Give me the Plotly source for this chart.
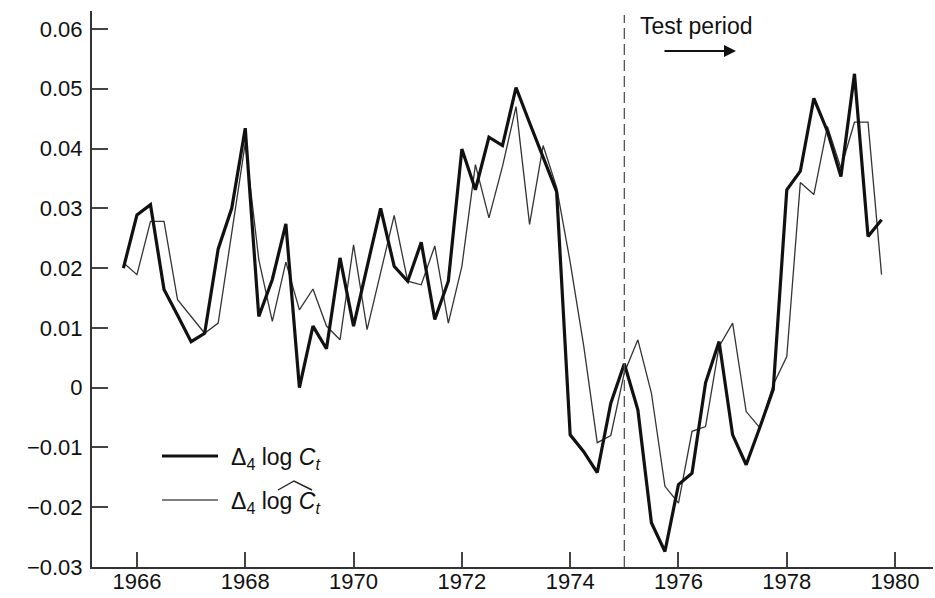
import plotly.graph_objects as go

# Quarterly observations, 1965 Q4 to 1979 Q4
start_year = 1965.75
n_quarters = 57
quarters = [start_year + 0.25 * i for i in range(n_quarters)]

# Four-quarter change in log consumption (actual)
actual = [
    0.0200, 0.0289, 0.0306, 0.0164, 0.0121, 0.0077, 0.0091, 0.0232,
    0.0300, 0.0434, 0.0119, 0.0181, 0.0274, 0.0000, 0.0103, 0.0065,
    0.0217, 0.0103, 0.0202, 0.0300, 0.0203, 0.0178, 0.0243, 0.0114,
    0.0178, 0.0399, 0.0331, 0.0419, 0.0405, 0.0502, 0.0443, 0.0387,
    0.0328, -0.0079, -0.0107, -0.0142, -0.0026, 0.0040, -0.0037, -0.0226,
    -0.0274, -0.0162, -0.0143, 0.0008, 0.0077, -0.0079, -0.0129, -0.0067,
    -0.0003, 0.0331, 0.0362, 0.0484, 0.0429, 0.0353, 0.0525, 0.0253,
    0.0281,
]

# Four-quarter change in log consumption (fitted / predicted)
fitted = [
    0.0209, 0.0189, 0.0278, 0.0278, 0.0147, 0.0119, 0.0091, 0.0108,
    0.0257, 0.0409, 0.0214, 0.0111, 0.0210, 0.0130, 0.0165, 0.0103,
    0.0080, 0.0239, 0.0097, 0.0190, 0.0288, 0.0178, 0.0172, 0.0237,
    0.0108, 0.0203, 0.0373, 0.0284, 0.0370, 0.0470, 0.0273, 0.0405,
    0.0335, 0.0210, 0.0070, -0.0092, -0.0080, 0.0025, 0.0080, -0.0009,
    -0.0165, -0.0193, -0.0073, -0.0065, 0.0069, 0.0108, -0.0040, -0.0067,
    0.0005, 0.0052, 0.0343, 0.0323, 0.0437, 0.0367, 0.0444, 0.0444,
    0.0189,
]

x_ticks = [1966, 1968, 1970, 1972, 1974, 1976, 1978, 1980]
x_ticktext = ["1966", "1968", "1970", "1972", "1974", "1976", "1978", "1980"]
y_ticks = [-0.03, -0.02, -0.01, 0.0, 0.01, 0.02, 0.03, 0.04, 0.05, 0.06]
y_ticktext = ["\u22120.03", "\u22120.02", "\u22120.01", "0", "0.01", "0.02",
              "0.03", "0.04", "0.05", "0.06"]

test_start = 1975.0

W, H = 935, 598
ML, MR, MT, MB = 92, 2, 11, 31
FONT = "Liberation Sans, Arial, Helvetica, sans-serif"


def px(xp):
    """Horizontal pixel position -> paper coordinate."""
    return (xp - ML) / (W - ML - MR)


def py(yp):
    """Vertical pixel position (from top) -> paper coordinate."""
    return (H - MB - yp) / (H - MT - MB)


fig = go.Figure()

fig.add_trace(go.Scatter(
    x=quarters, y=fitted, mode="lines",
    line=dict(color="#333333", width=1.3),
    showlegend=False, hoverinfo="skip",
))
fig.add_trace(go.Scatter(
    x=quarters, y=actual, mode="lines",
    line=dict(color="#111111", width=3.2),
    showlegend=False, hoverinfo="skip",
))

shapes = [
    # start of the test period
    dict(type="line", xref="x", yref="paper", x0=test_start, x1=test_start,
         y0=0, y1=py(15), line=dict(color="#555555", width=1.3, dash="11px,5px")),
    # legend samples
    dict(type="line", xref="paper", yref="paper", x0=px(162), x1=px(218),
         y0=py(456), y1=py(456), line=dict(color="#111111", width=3)),
    dict(type="line", xref="paper", yref="paper", x0=px(162), x1=px(218),
         y0=py(500), y1=py(500), line=dict(color="#555555", width=1.3)),
    # wide hat over the fitted-value symbol
    dict(type="path", xref="paper", yref="paper",
         path=f"M {px(278)} {py(490)} L {px(294)} {py(481)} L {px(312)} {py(490)}",
         line=dict(color="#222222", width=1.4)),
]

annotations = [
    dict(xref="paper", yref="paper", x=px(229), y=py(458), xanchor="left",
         yanchor="middle", showarrow=False,
         text="\u0394<sub>4</sub> log <i>C<sub>t</sub></i>",
         font=dict(family=FONT, size=23, color="#111111")),
    dict(xref="paper", yref="paper", x=px(229), y=py(502), xanchor="left",
         yanchor="middle", showarrow=False,
         text="\u0394<sub>4</sub> log <i>C<sub>t</sub></i>",
         font=dict(family=FONT, size=23, color="#111111")),
    dict(xref="paper", yref="paper", x=px(638), y=py(26), xanchor="left",
         yanchor="middle", showarrow=False, text="Test period",
         font=dict(family=FONT, size=23, color="#111111")),
    # arrow pointing into the test period
    dict(xref="paper", yref="paper", x=px(736), y=py(51), ax=-73, ay=0,
         text="", showarrow=True, arrowhead=2, arrowsize=1.2,
         arrowwidth=2, arrowcolor="#111111"),
]

fig.update_layout(
    width=W, height=H,
    margin=dict(l=ML, r=MR, t=MT, b=MB, pad=0),
    paper_bgcolor="white", plot_bgcolor="white",
    font=dict(family=FONT, size=22, color="#111111"),
    shapes=shapes, annotations=annotations,
    showlegend=False,
)

fig.update_xaxes(
    range=[1965.17, 1980.70], showgrid=False, zeroline=False,
    showline=True, linecolor="#333333", linewidth=2,
    ticks="inside", ticklen=15, tickwidth=1.5, tickcolor="#444444",
    tickvals=x_ticks, ticktext=x_ticktext, ticklabelstandoff=-6,
    tickfont=dict(family=FONT, size=22, color="#111111"),
    automargin=False,
)
fig.update_yaxes(
    range=[-0.03, 0.063], showgrid=False, zeroline=False,
    showline=True, linecolor="#333333", linewidth=2,
    ticks="inside", ticklen=16, tickwidth=1.5, tickcolor="#444444",
    tickvals=y_ticks, ticktext=y_ticktext, ticklabelstandoff=3,
    tickfont=dict(family=FONT, size=22, color="#111111"),
    automargin=False,
)

fig.write_html("out.html")
